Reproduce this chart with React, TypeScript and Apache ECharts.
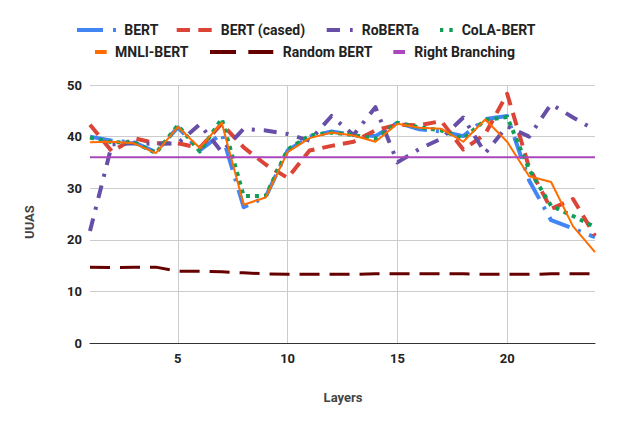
import React, { useEffect, useRef } from "react";
import * as echarts from "echarts";

const layers = [1, 2, 3, 4, 5, 6, 7, 8, 9, 10, 11, 12, 13, 14, 15, 16, 17, 18, 19, 20, 21, 22, 23, 24];
const labeledLayers = [5, 10, 15, 20];

const seriesNames = ["BERT", "BERT (cased)", "RoBERTa", "CoLA-BERT", "MNLI-BERT", "Random BERT", "Right Branching"];

const bert = [40, 39.2, 38.9, 37, 41.8, 37.3, 40.6, 26.3, 28.3, 37.3, 40, 41, 40.3, 40.1, 42.7, 41.4, 41, 40.1, 43.4, 44, 31.5, 23.8, 22.2, 20.5];
const bertCased = [42.3, 37.1, 39.7, 38.7, 38.7, 37.8, 42.5, 37.9, 34.6, 32, 37.3, 38.2, 39, 41.2, 42.3, 42.2, 43, 37.5, 40.5, 48.3, 34, 26, 27.9, 20.8];
const roberta = [21.7, 38.5, 38.7, 38.6, 38.7, 42.4, 37, 41.5, 41.2, 40.5, 39.2, 44, 40.3, 45.7, 35, 37.6, 39.6, 43.7, 36.8, 42, 40, 46.3, 43.7, 41.3];
const colaBert = [39.8, 38.9, 38.9, 36.8, 42.2, 37.1, 43.5, 28.5, 28.5, 37.5, 40.2, 40.8, 40.3, 39.6, 42.7, 41.8, 41.2, 39.6, 43.2, 43.8, 33.6, 26.6, 24.6, 22.5];
const mnliBert = [38.9, 39, 38.7, 36.8, 41.9, 37.8, 42.7, 26.8, 28.2, 37, 39.7, 40.8, 40.2, 39, 42.5, 41.7, 41.5, 39, 43.3, 39, 32.3, 31.2, 22.6, 17.6];
const randomBert = [14.7, 14.6, 14.7, 14.7, 13.9, 13.9, 13.8, 13.6, 13.4, 13.3, 13.3, 13.3, 13.3, 13.4, 13.4, 13.4, 13.4, 13.4, 13.3, 13.3, 13.3, 13.4, 13.4, 13.4];
const rightBranching = [36, 36, 36, 36, 36, 36, 36, 36, 36, 36, 36, 36, 36, 36, 36, 36, 36, 36, 36, 36, 36, 36, 36, 36];

const yTicks = { min: 0, max: 50, interval: 10 };

const seriesData = [bert, bertCased, roberta, colaBert, mnliBert, randomBert, rightBranching];
const colors = ["#4285F4", "#DB4437", "#674EA7", "#0F9D58", "#FF6D01", "#660000", "#AB47BC"];
const widths = [4, 4, 4, 4, 2, 3, 2];
const dashes: any[] = [[23, 9, 3, 9], [13, 8], [13, 9, 3, 9], [4, 5], "solid", [20, 10], "solid"];

// legend layout: [textX, textY, segments]
const legendLayout: [number, number, number[][], number][] = [
  [124.3, 30, [[77, 103], [113, 116]], 4],
  [220.7, 30, [[176.7, 190], [198.3, 211.7]], 4],
  [361.7, 30, [[326.7, 340], [350, 352.7]], 4],
  [461.7, 30, [[440, 443.3], [449.3, 452.7]], 4],
  [115, 52, [[95, 106.7]], 4],
  [282.7, 52, [[210, 236], [248.3, 273.3]], 4],
  [414.3, 52, [[393.3, 405]], 4],
];

export default function App() {
  const ref = useRef<HTMLDivElement>(null);
  useEffect(() => {
    if (!ref.current) return;
    const chart = echarts.init(ref.current, undefined, { renderer: "svg" });
    const graphics: any[] = [];
    legendLayout.forEach(([tx, ty, segs, lw], i) => {
      segs.forEach((s) => {
        graphics.push({
          type: "line",
          shape: { x1: s[0], y1: ty, x2: s[1], y2: ty },
          style: { stroke: colors[i], lineWidth: lw, lineCap: "butt" },
        });
      });
      graphics.push({
        type: "text",
        x: tx,
        y: ty,
        style: {
          text: seriesNames[i],
          fill: "#222",
          font: "bold 14px Roboto",
          textVerticalAlign: "middle",
          textAlign: "left",
        },
      });
    });
    graphics.push({
      type: "text",
      x: 29,
      y: 222,
      rotation: Math.PI / 2,
      style: {
        text: "UUAS",
        fill: "#444",
        font: "bold 13px Roboto",
        textAlign: "center",
        textVerticalAlign: "middle",
      },
    });
    graphics.push({
      type: "text",
      x: 343,
      y: 397,
      style: {
        text: "Layers",
        fill: "#444",
        font: "bold 13px Roboto",
        textAlign: "center",
        textVerticalAlign: "middle",
      },
    });

    chart.setOption({
      animation: false,
      backgroundColor: "#fff",
      grid: { left: 90, right: 22, top: 85, bottom: 84, containLabel: false },
      xAxis: {
        type: "category",
        data: layers,
        boundaryGap: false,
        axisLine: { show: true, lineStyle: { color: "#333", width: 1 } },
        axisTick: { show: false },
        axisLabel: {
          interval: (_i: number, v: any) => labeledLayers.includes(Number(v)),
          color: "#222",
          fontFamily: "Roboto",
          fontWeight: "bold",
          fontSize: 13,
          margin: 9,
        },
        splitLine: {
          show: true,
          interval: (_i: number, v: any) => labeledLayers.includes(Number(v)),
          lineStyle: { color: "#ccc", width: 1 },
        },
      },
      yAxis: {
        type: "value",
        min: yTicks.min,
        max: yTicks.max,
        interval: yTicks.interval,
        axisLine: { show: false },
        axisTick: { show: false },
        axisLabel: {
          color: "#222",
          fontFamily: "Roboto",
          fontWeight: "bold",
          fontSize: 13,
          margin: 8,
        },
        splitLine: { show: true, lineStyle: { color: "#ccc", width: 1 } },
      },
      graphic: graphics,
      series: seriesData.map((d, i) => ({
        name: seriesNames[i],
        type: "line",
        data: d,
        symbol: "none",
        showSymbol: false,
        silent: true,
        lineStyle: {
          color: colors[i],
          width: widths[i],
          type: dashes[i],
          cap: "butt",
          join: "round",
        },
        z: 2 + i,
      })),
    });
    return () => chart.dispose();
  }, []);
  return (
    <div
      ref={ref}
      style={{ position: "fixed", left: 0, top: 0, width: 617, height: 427 }}
    />
  );
}
